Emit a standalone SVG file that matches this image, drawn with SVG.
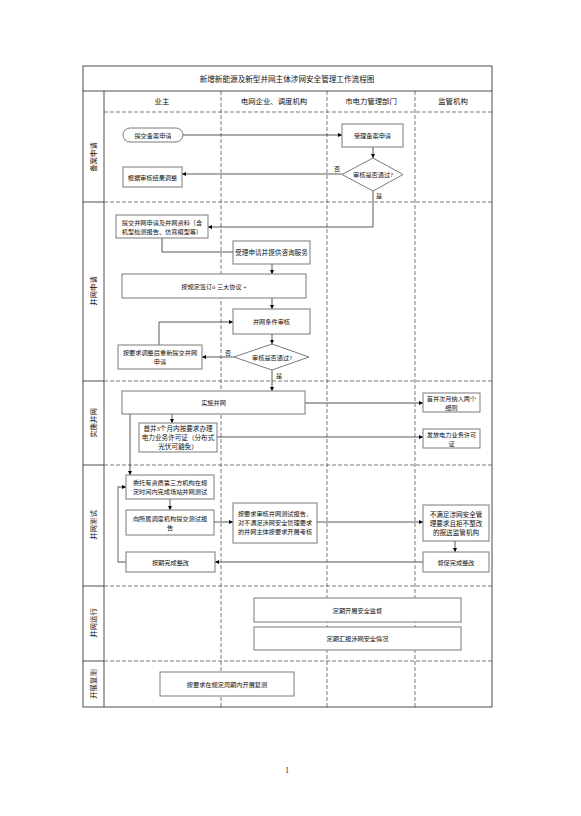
<svg xmlns="http://www.w3.org/2000/svg" width="581" height="816" viewBox="0 0 581 816">
<defs>
<marker id="ah" viewBox="0 0 10 10" refX="10" refY="5" markerWidth="4" markerHeight="4" orient="auto" markerUnits="userSpaceOnUse">
<path d="M0,0 L10,5 L0,10 z" fill="#000"/>
</marker>
</defs>
<style>
text{font-family:"Liberation Serif","Noto Sans CJK SC",serif;fill:#111;text-anchor:middle;dominant-baseline:central}
.t{font-size:7.6px}
.h{font-size:7.4px}
.l{font-size:7.4px}
.n{font-size:6.2px}
.s{font-size:6.6px}
.box{fill:#fff;stroke:#7a7a7a;stroke-width:1}
.grid{stroke:#444;stroke-width:0.7;stroke-dasharray:4,2;fill:none}
.solid{stroke:#222;stroke-width:0.8;fill:none}
.c{stroke:#111;stroke-width:0.7;fill:none}
.cg{stroke:#8a8a8a;stroke-width:1.3;fill:none}
.ar{marker-end:url(#ah)}
</style>
<rect width="581" height="816" fill="#fff"/>
<g id="frame">
<rect x="83" y="66" width="409" height="641" class="solid"/>
<line x1="83" y1="91" x2="492" y2="91" class="solid"/>
<line x1="104" y1="91" x2="104" y2="707" class="solid"/>
<line x1="221" y1="91" x2="221" y2="707" class="grid"/>
<line x1="327" y1="91" x2="327" y2="707" class="grid"/>
<line x1="415" y1="91" x2="415" y2="707" class="grid"/>
<line x1="104" y1="112" x2="492" y2="112" class="grid"/>
<line x1="83" y1="202" x2="104" y2="202" class="solid"/>
<line x1="104" y1="202" x2="492" y2="202" class="grid"/>
<line x1="83" y1="381" x2="104" y2="381" class="solid"/>
<line x1="104" y1="381" x2="492" y2="381" class="grid"/>
<line x1="83" y1="465" x2="104" y2="465" class="solid"/>
<line x1="104" y1="465" x2="492" y2="465" class="grid"/>
<line x1="83" y1="586" x2="104" y2="586" class="solid"/>
<line x1="104" y1="586" x2="492" y2="586" class="grid"/>
<line x1="83" y1="661" x2="104" y2="661" class="solid"/>
<line x1="104" y1="661" x2="492" y2="661" class="grid"/>
<text x="287" y="79" class="t">新增新能源及新型并网主体涉网安全管理工作流程图</text>
<text x="162" y="101" class="h">业主</text>
<text x="274" y="101" class="h">电网企业、调度机构</text>
<text x="371" y="101" class="h">市电力管理部门</text>
<text x="453" y="101" class="h">监管机构</text>
<text transform="translate(93,157) rotate(-90)" class="l">备案申请</text>
<text transform="translate(93,291) rotate(-90)" class="l">并网申请</text>
<text transform="translate(93,423) rotate(-90)" class="l">实施并网</text>
<text transform="translate(93,525) rotate(-90)" class="l">并网测试</text>
<text transform="translate(93,623) rotate(-90)" class="l">并网运行</text>
<text transform="translate(93,684) rotate(-90)" class="l">开展复测</text>
<text x="287" y="770" class="h">1</text>
</g>
<g id="connectors">
<line x1="183" y1="135" x2="342" y2="135" class="c ar"/>
<line x1="373" y1="147" x2="373" y2="158" class="c ar"/>
<line x1="342" y1="174" x2="182" y2="174" class="c ar"/>
<polyline points="373,191 373,227 208,227" class="c ar"/>
<polyline points="162,238 162,252 233,252" class="c"/>
<line x1="272" y1="264" x2="272" y2="274" class="c ar"/>
<line x1="272" y1="298" x2="272" y2="309" class="c ar"/>
<line x1="272" y1="334" x2="272" y2="344" class="c ar"/>
<line x1="234" y1="357" x2="202" y2="357" class="c ar"/>
<polyline points="159,345 159,322 233,322" class="c ar"/>
<line x1="272" y1="370" x2="272" y2="391" class="c ar"/>
<line x1="305" y1="403" x2="423" y2="403" class="cg ar"/>
<line x1="172" y1="414" x2="172" y2="423" class="c ar"/>
<line x1="217" y1="437" x2="423" y2="437" class="c ar"/>
<line x1="130" y1="414" x2="130" y2="475" class="c ar"/>
<line x1="170" y1="499" x2="170" y2="510" class="c ar"/>
<line x1="214" y1="522" x2="233" y2="522" class="c ar"/>
<line x1="317" y1="522" x2="423" y2="522" class="c ar"/>
<line x1="455" y1="541" x2="455" y2="552" class="c ar"/>
<line x1="423" y1="562" x2="215" y2="562" class="cg ar"/>
<polyline points="126,562 118,562 118,487 126,487" class="cg ar"/>
</g>
<g id="n1"><rect x="123" y="128" width="60" height="14" rx="7" class="box"/><text x="153" y="135" class="n">提交备案申请</text></g>
<g id="n2"><rect x="342" y="124" width="61" height="23" class="box"/><text x="372.5" y="135.5" class="n">受理备案申请</text></g>
<g id="n3"><polygon points="373,158 403,174.5 373,191 342,174.5" class="box"/><text x="373" y="174.5" class="n">审核是否通过?</text></g>
<text x="337" y="168" class="n">否</text>
<text x="379" y="195" class="n">是</text>
<g id="n4"><rect x="123" y="167" width="59" height="20" class="box"/><text x="152.5" y="177" class="n">根据审核结果调整</text></g>
<g id="n5"><rect x="116" y="215" width="92" height="23" class="box"/><text x="162" y="222" class="n">提交并网申请及并网资料（含</text><text x="162" y="231" class="n">机型检测报告、仿真模型等）</text></g>
<g id="n6"><rect x="233" y="241" width="77" height="23" class="box"/><text x="271.5" y="252.5" class="s">受理申请并提供咨询服务</text></g>
<g id="n7"><rect x="122" y="274" width="184" height="24" class="box"/><text x="214" y="286" class="n">按规定签订ó 三大协议 ÷</text></g>
<g id="n8"><rect x="233" y="309" width="77" height="25" class="box"/><text x="271.5" y="321.5" class="n">并网条件审核</text></g>
<g id="n9"><polygon points="272,344 309,357 272,370 234,357" class="box"/><text x="272" y="357" class="n">审核是否通过?</text></g>
<text x="228" y="352" class="n">否</text>
<text x="279" y="375" class="n">是</text>
<g id="n10"><rect x="118" y="345" width="84" height="24" class="box"/><text x="160" y="352.5" class="n">按要求调整后重新提交并网</text><text x="160" y="361.5" class="n">申请</text></g>
<g id="n11"><rect x="122" y="391" width="183" height="23" class="box"/><text x="213.5" y="402.5" class="n">实施并网</text></g>
<g id="n12"><rect x="423" y="393" width="57" height="19" class="box"/><text x="451.5" y="398" class="n">首并次月纳入两个</text><text x="451.5" y="407" class="n">细则</text></g>
<g id="n13"><rect x="139" y="423" width="78" height="29" class="box"/><text x="178" y="428.5" class="s">首并3个月内按要求办理</text><text x="178" y="437.5" class="s">电力业务许可证（分布式</text><text x="178" y="446.5" class="s">光伏可豁免）</text></g>
<g id="n14"><rect x="423" y="429" width="57" height="19" class="box"/><text x="451.5" y="434" class="n">发放电力业务许可</text><text x="451.5" y="443" class="n">证</text></g>
<g id="n15"><rect x="126" y="475" width="88" height="24" class="box"/><text x="170" y="482.5" class="n">委托有资质第三方机构在规</text><text x="170" y="491.5" class="n">定时间内完成场站并网测试</text></g>
<g id="n16"><rect x="126" y="510" width="88" height="25" class="box"/><text x="170" y="518" class="n">向所属调度机构提交测试报</text><text x="170" y="527" class="n">告</text></g>
<g id="n17"><rect x="233" y="503" width="84" height="40" class="box"/><text x="275" y="513.5" class="n">按要求审核并网测试报告，</text><text x="275" y="522.5" class="n">对不满足涉网安全管理要求</text><text x="275" y="531.5" class="n">的并网主体按要求开展考核</text></g>
<g id="n18"><rect x="423" y="505" width="66" height="36" class="box"/><text x="456" y="514" class="s">不满足涉网安全管</text><text x="456" y="523" class="s">理要求且拒不整改</text><text x="456" y="532" class="s">的报送监管机构</text></g>
<g id="n19"><rect x="423" y="552" width="66" height="20" class="box"/><text x="456" y="562" class="n">督促完成整改</text></g>
<g id="n20"><rect x="126" y="552" width="89" height="20" class="box"/><text x="170.5" y="562" class="n">按期完成整改</text></g>
<g id="n21"><rect x="254" y="598" width="207" height="24" class="box"/><text x="357.5" y="610" class="n">定期开展安全监督</text></g>
<g id="n22"><rect x="254" y="627" width="207" height="23" class="box"/><text x="357.5" y="638.5" class="n">定期汇报涉网安全情况</text></g>
<g id="n23"><rect x="160" y="672" width="134" height="24" class="box"/><text x="227" y="684" class="n">按要求在规定周期内开展复测</text></g>
</svg>
